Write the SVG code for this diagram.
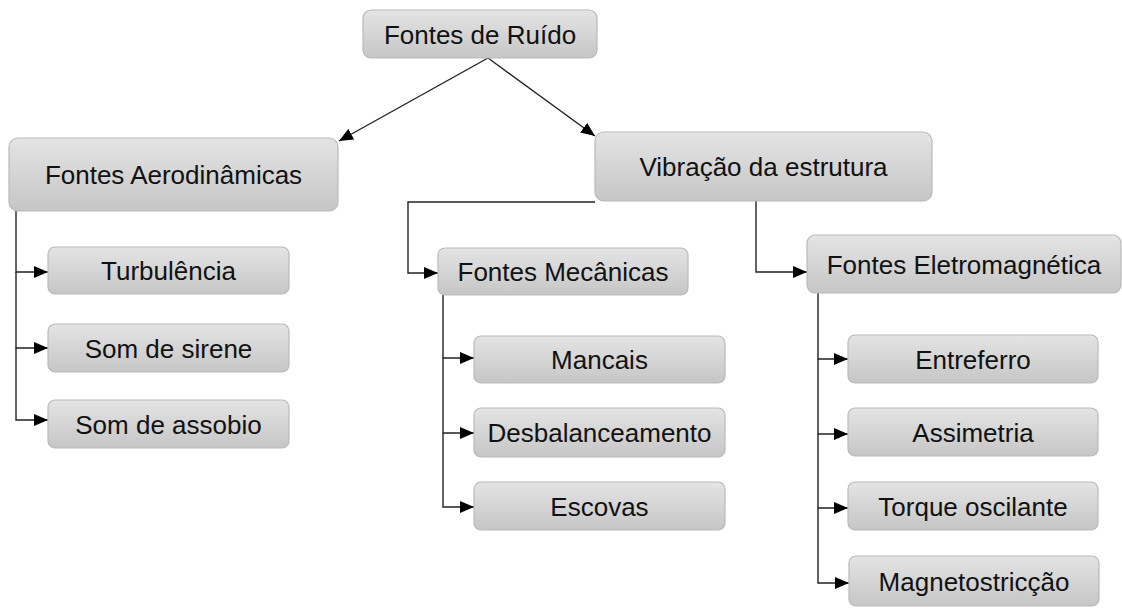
<svg xmlns="http://www.w3.org/2000/svg" width="1122" height="610" viewBox="0 0 1122 610">
<defs>
<linearGradient id="g" x1="0" y1="0" x2="0" y2="1">
<stop offset="0" stop-color="#e4e4e4"/>
<stop offset="1" stop-color="#c6c6c6"/>
</linearGradient>
<marker id="ah" markerUnits="userSpaceOnUse" markerWidth="14" markerHeight="12" refX="14" refY="6" orient="auto">
<path d="M0,0 L14,6 L0,12 Z" fill="#000"/>
</marker>
</defs>
<style>
.box{fill:url(#g);stroke:#b9b9b9;stroke-width:1.2}
.t{font-family:"Liberation Sans",Arial,sans-serif;font-size:26px;fill:#111;text-anchor:middle}
.c{fill:none;stroke:#222;stroke-width:1.4}
</style>
<rect width="1122" height="610" fill="#fff"/>
<g id="connectors">
<path class="c" d="M488,58 L339,141" marker-end="url(#ah)"/>
<path class="c" d="M488,58 L595,136" marker-end="url(#ah)"/>
<path class="c" d="M16,211 L16,272 L48,272" marker-end="url(#ah)"/>
<path class="c" d="M16,272 L16,348 L48,348" marker-end="url(#ah)"/>
<path class="c" d="M16,348 L16,420 L48,420" marker-end="url(#ah)"/>
<path class="c" d="M595,202 L408,202 L408,273 L438,273" marker-end="url(#ah)"/>
<path class="c" d="M756,201 L756,272 L807,272" marker-end="url(#ah)"/>
<path class="c" d="M443,295 L443,358 L474,358" marker-end="url(#ah)"/>
<path class="c" d="M443,358 L443,433 L474,433" marker-end="url(#ah)"/>
<path class="c" d="M443,433 L443,507 L474,507" marker-end="url(#ah)"/>
<path class="c" d="M818,293 L818,359 L848,359" marker-end="url(#ah)"/>
<path class="c" d="M818,359 L818,434 L848,434" marker-end="url(#ah)"/>
<path class="c" d="M818,434 L818,508 L848,508" marker-end="url(#ah)"/>
<path class="c" d="M818,508 L818,583 L849,583" marker-end="url(#ah)"/>
</g>
<g id="root"><rect class="box" x="363" y="10" width="234" height="48" rx="8"/><text class="t" x="480" y="43.5">Fontes de Ruído</text></g>
<g id="aero"><rect class="box" x="9" y="138" width="329" height="73" rx="9"/><text class="t" x="173.5" y="184">Fontes Aerodinâmicas</text></g>
<g id="vib"><rect class="box" x="595" y="132" width="337" height="69" rx="9"/><text class="t" x="763.5" y="176">Vibração da estrutura</text></g>
<g id="turb"><rect class="box" x="48" y="247" width="241" height="47" rx="7"/><text class="t" x="168.5" y="280">Turbulência</text></g>
<g id="sirene"><rect class="box" x="48" y="324" width="241" height="48" rx="7"/><text class="t" x="168.5" y="357.5">Som de sirene</text></g>
<g id="assobio"><rect class="box" x="48" y="400" width="241" height="48" rx="7"/><text class="t" x="168.5" y="433.5">Som de assobio</text></g>
<g id="mec"><rect class="box" x="438" y="248" width="250" height="47" rx="7"/><text class="t" x="563" y="281">Fontes Mecânicas</text></g>
<g id="eletro"><rect class="box" x="807" y="235" width="314" height="58" rx="8"/><text class="t" x="964" y="273.5">Fontes Eletromagnética</text></g>
<g id="mancais"><rect class="box" x="474" y="336" width="251" height="47" rx="7"/><text class="t" x="599.5" y="369">Mancais</text></g>
<g id="desbal"><rect class="box" x="474" y="408" width="251" height="49" rx="7"/><text class="t" x="599.5" y="442">Desbalanceamento</text></g>
<g id="escovas"><rect class="box" x="474" y="482" width="251" height="48" rx="7"/><text class="t" x="599.5" y="515.5">Escovas</text></g>
<g id="entreferro"><rect class="box" x="848" y="335" width="250" height="48" rx="7"/><text class="t" x="973" y="368.5">Entreferro</text></g>
<g id="assimetria"><rect class="box" x="848" y="408" width="250" height="48" rx="7"/><text class="t" x="973" y="441.5">Assimetria</text></g>
<g id="torque"><rect class="box" x="848" y="482" width="250" height="48" rx="7"/><text class="t" x="973" y="515.5">Torque oscilante</text></g>
<g id="magneto"><rect class="box" x="849" y="556" width="250" height="50" rx="7"/><text class="t" x="974" y="590.5">Magnetostricção</text></g>
</svg>
